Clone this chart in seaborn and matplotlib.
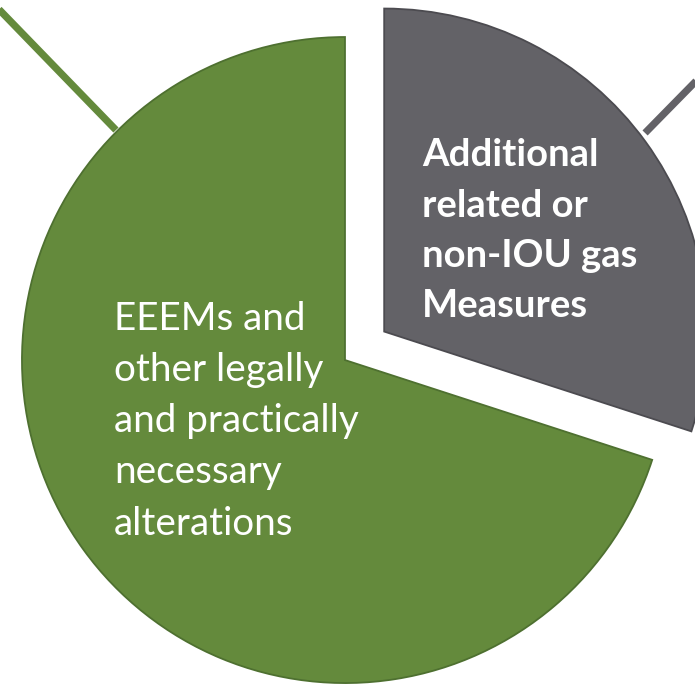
import matplotlib
matplotlib.use("Agg")
import matplotlib.pyplot as plt
import seaborn as sns

# slice data
labels = ["EEEMs and\nother legally\nand practically\nnecessary\nalterations",
          "Additional\nrelated or\nnon-IOU gas\nMeasures"]
shares = [70, 30]
colors = ["#648a3c", "#636267"]
edge_colors = ["#4e7030", "#4c4b50"]
explode = [0, 0.15]

sns.set_theme(style="white")
plt.rcParams['font.family'] = ['Lato', 'DejaVu Sans']

fig = plt.figure(figsize=(6.95, 6.85), dpi=100)
ax = fig.add_axes([0, 0, 1, 1])

# leader lines that run out of the cropped view
ax.plot([-0.709, -1.25], [0.712, 1.27], color=colors[0], lw=5.2,
        solid_capstyle='butt', zorder=1)
ax.plot([0.929, 1.25], [0.703, 1.03], color=colors[1], lw=5.2,
        solid_capstyle='butt', zorder=1)

wedges, _ = ax.pie(shares, colors=colors, explode=explode, startangle=90,
                   counterclock=True, radius=1.0,
                   wedgeprops=dict(linewidth=1.3))
for w, ec in zip(wedges, edge_colors):
    w.set_edgecolor(ec)
    w.set_zorder(2)

ax.text(-0.715, -0.19, labels[0], color="white", fontsize=27.8,
        ha='left', va='center', linespacing=1.52, zorder=3)
ax.text(0.238, 0.40, labels[1], color="white", fontsize=27.5, fontweight='bold',
        ha='left', va='center', linespacing=1.58, zorder=3)

ax.set_xlim(-1.068, 1.0836)
ax.set_ylim(-1.006, 1.1146)
ax.set_aspect('equal')
ax.axis('off')

fig.savefig("out.png", dpi=100)
